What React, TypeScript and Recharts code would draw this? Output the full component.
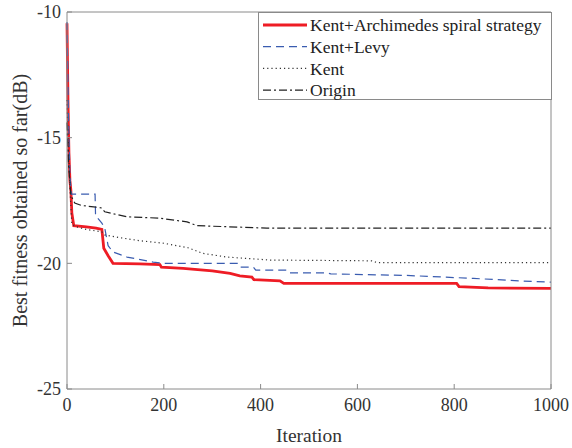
import { Legend, Line, LineChart, XAxis, YAxis } from "recharts";

const FONT = "Liberation Serif";
const AXIS = "#8a8a8a";

const xTicks = [0, 200, 400, 600, 800, 1000];
const yTicks = [-25, -20, -15, -10];

// Kent+Archimedes spiral strategy
const spiralIter = [0, 2, 4, 6, 8, 10, 14, 40, 60, 72, 76, 85, 95, 150, 192, 195, 240, 300, 337, 357, 382, 386, 440, 448, 805, 810, 870, 1000];
const spiralFit = [-10.45, -13.5, -15.6, -16.7, -17.1, -18.0, -18.5, -18.55, -18.6, -18.65, -19.4, -19.7, -20.0, -20.02, -20.05, -20.15, -20.2, -20.3, -20.4, -20.5, -20.55, -20.65, -20.7, -20.8, -20.8, -20.93, -20.98, -21.0];

// Kent+Levy
const levyIter = [0, 3, 6, 9, 58, 59, 72, 78, 85, 95, 124, 157, 178, 200, 353, 358, 385, 390, 455, 460, 537, 545, 700, 840, 936, 1000];
const levyFit = [-10.4, -14.0, -16.5, -17.25, -17.25, -18.1, -18.4, -18.6, -19.3, -19.55, -19.75, -19.87, -19.95, -20.0, -20.0, -20.15, -20.15, -20.27, -20.27, -20.38, -20.38, -20.42, -20.48, -20.6, -20.7, -20.75];

// Kent
const kentIter = [0, 3, 6, 10, 20, 40, 72, 78, 100, 150, 200, 250, 280, 330, 420, 630, 640, 1000];
const kentFit = [-13.5, -15.5, -17.0, -18.45, -18.55, -18.65, -18.75, -18.87, -18.95, -19.1, -19.2, -19.38, -19.6, -19.75, -19.87, -19.9, -19.97, -19.97];

// Origin
const originIter = [0, 3, 8, 16, 30, 55, 72, 78, 124, 190, 248, 268, 413, 1000];
const originFit = [-14.4, -16.0, -17.3, -17.6, -17.7, -17.75, -17.8, -17.95, -18.15, -18.2, -18.35, -18.5, -18.6, -18.6];

const toPoints = (iters: number[], fits: number[]) =>
  iters.map((it, i) => ({ it, v: fits[i] }));

const series = [
  { name: "Kent+Archimedes spiral strategy", data: toPoints(spiralIter, spiralFit), stroke: "#ee1c25", width: 2.8, dash: undefined },
  { name: "Kent+Levy", data: toPoints(levyIter, levyFit), stroke: "#3a5cb0", width: 1.2, dash: "8 5" },
  { name: "Kent", data: toPoints(kentIter, kentFit), stroke: "#333", width: 1.2, dash: "1.2 3" },
  { name: "Origin", data: toPoints(originIter, originFit), stroke: "#222", width: 1.2, dash: "8 3 2 3" },
];

const renderLegend = () => (
  <svg width={294} height={88} style={{ display: "block" }}>
    <rect x={0.5} y={0.5} width={293} height={87} fill="#fff" stroke={AXIS} />
    {series.map((s, i) => (
      <g key={s.name}>
        <line x1={5} x2={49} y1={13 + i * 21.7} y2={13 + i * 21.7} stroke={s.stroke} strokeWidth={s.width} strokeDasharray={s.dash} />
        <text x={52} y={13 + i * 21.7} dy="0.35em" fontSize={17.5} fontFamily={FONT} fill="#222">
          {s.name}
        </text>
      </g>
    ))}
  </svg>
);

const tickStyle = { fill: "#333", fontSize: 18, fontFamily: FONT };

export default function App() {
  return (
    <div style={{ position: "absolute", left: 0, top: 0, background: "#fff", fontFamily: FONT }}>
      <LineChart width={572} height={448} margin={{ top: 11, right: 20, bottom: 0, left: 0 }} style={{ fontFamily: FONT }}>
        <XAxis
          dataKey="it"
          type="number"
          domain={[0, 1000]}
          ticks={xTicks}
          height={59}
          stroke={AXIS}
          tickSize={-5}
          tickMargin={14}
          tick={tickStyle}
          label={{ value: "Iteration", position: "insideBottom", offset: 6, fill: "#333", fontSize: 19.5, fontFamily: FONT }}
        />
        <XAxis xAxisId="top" orientation="top" type="number" domain={[0, 1000]} ticks={xTicks} height={1} stroke={AXIS} tickSize={-4} tick={false} />
        <YAxis
          type="number"
          domain={[-25, -10]}
          ticks={yTicks}
          width={67}
          stroke={AXIS}
          tickSize={-5}
          tickMargin={11}
          tick={tickStyle}
          label={{
            content: (props: any) => {
              const vb = props.viewBox || { y: 12, height: 377 };
              const cy = vb.y + vb.height / 2;
              return (
                <text x={20} y={cy} transform={`rotate(-90, 20, ${cy})`} textAnchor="middle" dominantBaseline="central" fontSize={20} fontFamily={FONT} fill="#333">
                  Best fitness obtained so far(dB)
                </text>
              );
            },
          }}
        />
        <YAxis yAxisId="right" orientation="right" type="number" domain={[-25, -10]} ticks={yTicks} width={1} stroke={AXIS} tickSize={-5} tick={false} />
        {series.map((s) => (
          <Line
            key={s.name}
            data={s.data}
            dataKey="v"
            name={s.name}
            type="linear"
            stroke={s.stroke}
            strokeWidth={s.width}
            strokeDasharray={s.dash}
            dot={false}
            activeDot={false}
            isAnimationActive={false}
          />
        ))}
        <Legend
          layout="horizontal"
          verticalAlign="middle"
          align="center"
          content={renderLegend}
          wrapperStyle={{ left: 258, top: 12, width: 294, height: 88 }}
        />
      </LineChart>
    </div>
  );
}
